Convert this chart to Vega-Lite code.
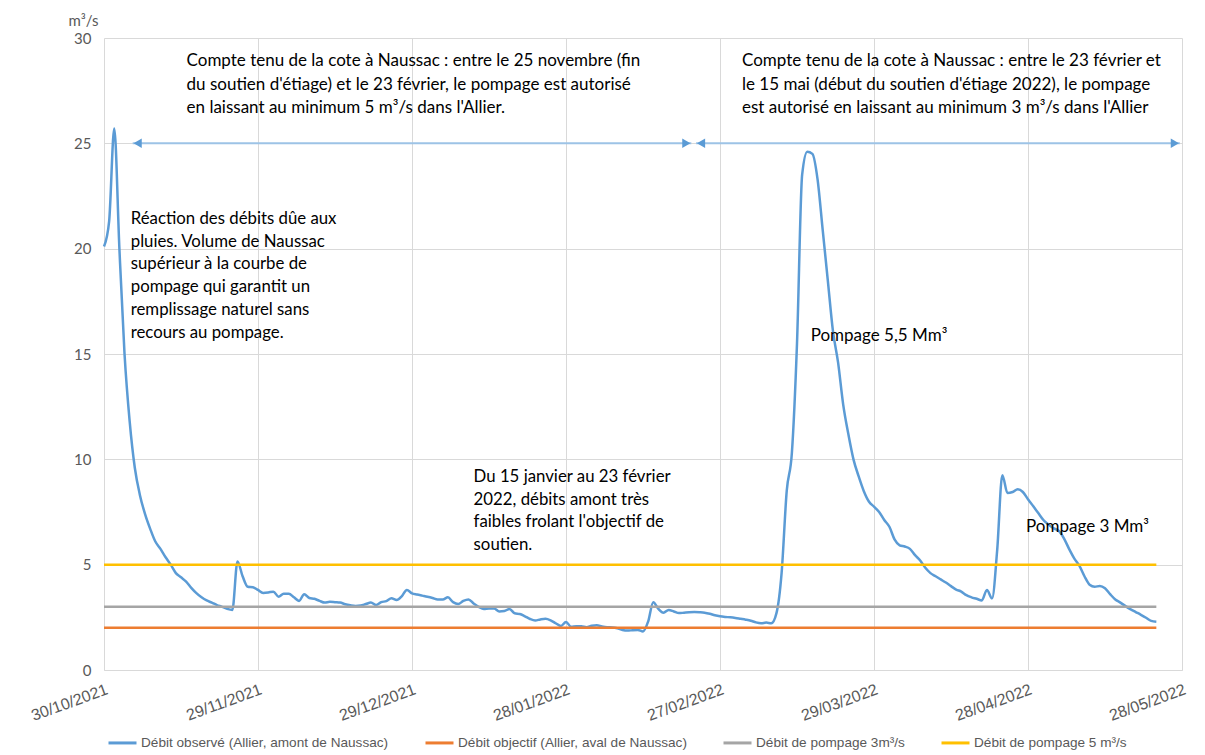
{
  "$schema": "https://vega.github.io/schema/vega-lite/v6.json",
  "width": 1078,
  "height": 632,
  "autosize": {"type": "none"},
  "padding": {"left": 104, "top": 38, "right": 23, "bottom": 85},
  "background": "white",
  "config": {"view": {"stroke": null}, "font": "Lato"},
  "datasets": {
    "obs": [
      {"d":"2021-10-30","v":20.1},{"d":"2021-10-31","v":21.3},{"d":"2021-11-01","v":25.7},{"d":"2021-11-02","v":20.0},{"d":"2021-11-03","v":15.0},{"d":"2021-11-04","v":11.8},{"d":"2021-11-05","v":9.6},{"d":"2021-11-06","v":8.3},{"d":"2021-11-07","v":7.4},{"d":"2021-11-08","v":6.7},{"d":"2021-11-09","v":6.1},{"d":"2021-11-10","v":5.75},{"d":"2021-11-11","v":5.35},{"d":"2021-11-12","v":5.0},{"d":"2021-11-13","v":4.6},{"d":"2021-11-14","v":4.4},{"d":"2021-11-15","v":4.2},{"d":"2021-11-16","v":3.9},{"d":"2021-11-17","v":3.65},{"d":"2021-11-18","v":3.45},{"d":"2021-11-19","v":3.3},{"d":"2021-11-20","v":3.2},{"d":"2021-11-21","v":3.08},{"d":"2021-11-22","v":3.0},{"d":"2021-11-23","v":2.9},{"d":"2021-11-24","v":2.85},{"d":"2021-11-25","v":5.15},{"d":"2021-11-26","v":4.45},{"d":"2021-11-27","v":3.95},{"d":"2021-11-28","v":3.93},{"d":"2021-11-29","v":3.8},{"d":"2021-11-30","v":3.66},
      {"d":"2021-12-01","v":3.68},{"d":"2021-12-02","v":3.72},{"d":"2021-12-03","v":3.48},{"d":"2021-12-04","v":3.62},{"d":"2021-12-05","v":3.62},{"d":"2021-12-06","v":3.45},{"d":"2021-12-07","v":3.28},{"d":"2021-12-08","v":3.6},{"d":"2021-12-09","v":3.42},{"d":"2021-12-10","v":3.38},{"d":"2021-12-11","v":3.28},{"d":"2021-12-12","v":3.2},{"d":"2021-12-13","v":3.24},{"d":"2021-12-14","v":3.22},{"d":"2021-12-15","v":3.2},{"d":"2021-12-16","v":3.12},{"d":"2021-12-17","v":3.07},{"d":"2021-12-18","v":3.04},{"d":"2021-12-19","v":3.06},{"d":"2021-12-20","v":3.13},{"d":"2021-12-21","v":3.2},{"d":"2021-12-22","v":3.08},{"d":"2021-12-23","v":3.22},{"d":"2021-12-24","v":3.27},{"d":"2021-12-25","v":3.4},{"d":"2021-12-26","v":3.32},{"d":"2021-12-27","v":3.5},{"d":"2021-12-28","v":3.8},{"d":"2021-12-29","v":3.64},{"d":"2021-12-30","v":3.58},{"d":"2021-12-31","v":3.53},
      {"d":"2022-01-01","v":3.48},{"d":"2022-01-02","v":3.42},{"d":"2022-01-03","v":3.35},{"d":"2022-01-04","v":3.35},{"d":"2022-01-05","v":3.45},{"d":"2022-01-06","v":3.22},{"d":"2022-01-07","v":3.13},{"d":"2022-01-08","v":3.28},{"d":"2022-01-09","v":3.35},{"d":"2022-01-10","v":3.16},{"d":"2022-01-11","v":3.0},{"d":"2022-01-12","v":2.9},{"d":"2022-01-13","v":2.92},{"d":"2022-01-14","v":2.92},{"d":"2022-01-15","v":2.78},{"d":"2022-01-16","v":2.8},{"d":"2022-01-17","v":2.9},{"d":"2022-01-18","v":2.69},{"d":"2022-01-19","v":2.66},{"d":"2022-01-20","v":2.55},{"d":"2022-01-21","v":2.42},{"d":"2022-01-22","v":2.35},{"d":"2022-01-23","v":2.4},{"d":"2022-01-24","v":2.43},{"d":"2022-01-25","v":2.36},{"d":"2022-01-26","v":2.22},{"d":"2022-01-27","v":2.09},{"d":"2022-01-28","v":2.28},{"d":"2022-01-29","v":2.05},{"d":"2022-01-30","v":2.08},{"d":"2022-01-31","v":2.08},
      {"d":"2022-02-01","v":2.03},{"d":"2022-02-02","v":2.1},{"d":"2022-02-03","v":2.13},{"d":"2022-02-04","v":2.07},{"d":"2022-02-05","v":2.03},{"d":"2022-02-06","v":2.02},{"d":"2022-02-07","v":1.98},{"d":"2022-02-08","v":1.9},{"d":"2022-02-09","v":1.87},{"d":"2022-02-10","v":1.89},{"d":"2022-02-11","v":1.9},{"d":"2022-02-12","v":1.83},{"d":"2022-02-13","v":2.3},{"d":"2022-02-14","v":3.22},{"d":"2022-02-15","v":2.9},{"d":"2022-02-16","v":2.72},{"d":"2022-02-17","v":2.85},{"d":"2022-02-18","v":2.78},{"d":"2022-02-19","v":2.7},{"d":"2022-02-20","v":2.72},{"d":"2022-02-21","v":2.74},{"d":"2022-02-22","v":2.75},{"d":"2022-02-23","v":2.74},{"d":"2022-02-24","v":2.72},{"d":"2022-02-25","v":2.67},{"d":"2022-02-26","v":2.6},{"d":"2022-02-27","v":2.55},{"d":"2022-02-28","v":2.52},
      {"d":"2022-03-01","v":2.5},{"d":"2022-03-02","v":2.47},{"d":"2022-03-03","v":2.43},{"d":"2022-03-04","v":2.39},{"d":"2022-03-05","v":2.34},{"d":"2022-03-06","v":2.26},{"d":"2022-03-07","v":2.22},{"d":"2022-03-08","v":2.25},{"d":"2022-03-09","v":2.22},{"d":"2022-03-10","v":2.7},{"d":"2022-03-11","v":4.6},{"d":"2022-03-12","v":8.5},{"d":"2022-03-13","v":10.3},{"d":"2022-03-14","v":15.5},{"d":"2022-03-15","v":23.5},{"d":"2022-03-16","v":24.6},{"d":"2022-03-17","v":24.5},{"d":"2022-03-18","v":23.3},{"d":"2022-03-19","v":20.9},{"d":"2022-03-20","v":18.5},{"d":"2022-03-21","v":16.1},{"d":"2022-03-22","v":14.6},{"d":"2022-03-23","v":12.6},{"d":"2022-03-24","v":11.2},{"d":"2022-03-25","v":10.0},{"d":"2022-03-26","v":9.2},{"d":"2022-03-27","v":8.5},{"d":"2022-03-28","v":8.0},{"d":"2022-03-29","v":7.75},{"d":"2022-03-30","v":7.5},{"d":"2022-03-31","v":7.12},
      {"d":"2022-04-01","v":6.8},{"d":"2022-04-02","v":6.2},{"d":"2022-04-03","v":5.92},{"d":"2022-04-04","v":5.86},{"d":"2022-04-05","v":5.75},{"d":"2022-04-06","v":5.45},{"d":"2022-04-07","v":5.2},{"d":"2022-04-08","v":4.85},{"d":"2022-04-09","v":4.6},{"d":"2022-04-10","v":4.45},{"d":"2022-04-11","v":4.3},{"d":"2022-04-12","v":4.15},{"d":"2022-04-13","v":3.98},{"d":"2022-04-14","v":3.82},{"d":"2022-04-15","v":3.72},{"d":"2022-04-16","v":3.55},{"d":"2022-04-17","v":3.45},{"d":"2022-04-18","v":3.38},{"d":"2022-04-19","v":3.3},{"d":"2022-04-20","v":3.8},{"d":"2022-04-21","v":3.4},{"d":"2022-04-22","v":5.7},{"d":"2022-04-23","v":9.25},{"d":"2022-04-24","v":8.4},{"d":"2022-04-25","v":8.45},{"d":"2022-04-26","v":8.58},{"d":"2022-04-27","v":8.45},{"d":"2022-04-28","v":8.1},{"d":"2022-04-29","v":7.78},{"d":"2022-04-30","v":7.45},
      {"d":"2022-05-01","v":7.12},{"d":"2022-05-02","v":6.9},{"d":"2022-05-03","v":6.72},{"d":"2022-05-04","v":6.6},{"d":"2022-05-05","v":6.25},{"d":"2022-05-06","v":5.75},{"d":"2022-05-07","v":5.3},{"d":"2022-05-08","v":4.95},{"d":"2022-05-09","v":4.45},{"d":"2022-05-10","v":4.05},{"d":"2022-05-11","v":3.95},{"d":"2022-05-12","v":3.99},{"d":"2022-05-13","v":3.88},{"d":"2022-05-14","v":3.6},{"d":"2022-05-15","v":3.35},{"d":"2022-05-16","v":3.2},{"d":"2022-05-17","v":3.03},{"d":"2022-05-18","v":2.88},{"d":"2022-05-19","v":2.75},{"d":"2022-05-20","v":2.62},{"d":"2022-05-21","v":2.48},{"d":"2022-05-22","v":2.33},{"d":"2022-05-23","v":2.29}
    ],
    "refs": [
      {"s":"Débit objectif (Allier, aval de Naussac)","v":2,"start":"2021-10-30","end":"2022-05-23"},
      {"s":"Débit de pompage 3m³/s","v":3,"start":"2021-10-30","end":"2022-05-23"},
      {"s":"Débit de pompage 5 m³/s","v":5,"start":"2021-10-30","end":"2022-05-23"}
    ],
    "periods": [
      {"start":"2021-11-04T14:00","end":"2022-02-21T10:00","v":25},
      {"start":"2022-02-22T08:00","end":"2022-05-27T14:00","v":25}
    ],
    "notesTop": [
      {"d":"2021-11-15T02:00","v":29.27,"t":"Compte tenu de la cote à Naussac : entre le 25 novembre (fin\ndu soutien d'étiage) et le 23 février, le pompage est  autorisé\nen laissant au minimum 5 m³/s dans l'Allier."},
      {"d":"2022-03-03T07:00","v":29.27,"t":"Compte tenu de la cote à Naussac : entre le 23 février et\nle 15 mai (début du soutien d'étiage 2022), le pompage\nest autorisé en laissant au minimum 3 m³/s dans l'Allier"},
      {"d":"2022-03-16T16:00","v":16.23,"t":"Pompage 5,5 Mm³"},
      {"d":"2022-04-27T15:00","v":7.18,"t":"Pompage 3 Mm³"}
    ],
    "notesBody": [
      {"d":"2021-11-04T05:00","v":21.8,"t":"Réaction des débits dûe aux\npluies. Volume de Naussac\nsupérieur à la courbe de\npompage qui garantit un\nremplissage naturel sans\nrecours au pompage."},
      {"d":"2022-01-10T00:00","v":9.55,"t":"Du 15 janvier au 23 février\n2022, débits amont très\nfaibles frolant l'objectif de\nsoutien."}
    ]
  },
  "layer": [
    {
      "data": {"name": "obs"},
      "mark": {"type": "line", "interpolate": "monotone", "strokeWidth": 2.5},
      "encoding": {
        "x": {
          "field": "d", "type": "temporal",
          "scale": {"domain": [{"year":2021,"month":10,"date":30},{"year":2022,"month":5,"date":28}]},
          "axis": {
            "title": null,
            "values": [{"year":2021,"month":10,"date":30},{"year":2021,"month":11,"date":29},{"year":2021,"month":12,"date":29},{"year":2022,"month":1,"date":28},{"year":2022,"month":2,"date":27},{"year":2022,"month":3,"date":29},{"year":2022,"month":4,"date":28},{"year":2022,"month":5,"date":28}],
            "format": "%d/%m/%Y",
            "grid": true, "gridColor": "#d9d9d9", "gridWidth": 1,
            "domain": true, "domainColor": "#d9d9d9", "domainWidth": 1,
            "ticks": false,
            "labelAngle": -20, "labelAlign": "right", "labelBaseline": "top",
            "labelPadding": 11, "labelFontSize": 16, "labelColor": "#595959",
            "labelFont": "Liberation Sans Narrow, Liberation Sans, sans-serif",
            "labelOverlap": false, "labelFlush": false
          }
        },
        "y": {
          "field": "v", "type": "quantitative",
          "scale": {"domain": [0, 30], "nice": false},
          "axis": {
            "values": [0,5,10,15,20,25,30],
            "grid": true, "gridColor": "#d9d9d9", "gridWidth": 1,
            "domain": false, "ticks": false,
            "labelPadding": 13, "labelFontSize": 15, "labelColor": "#595959", "labelFont": "Lato",
            "title": "m³/s", "titleAngle": 0, "titleFontWeight": "normal", "titleFontSize": 15,
            "titleColor": "#595959", "titleFont": "Lato",
            "titleAlign": "right", "titleBaseline": "bottom", "titleX": -6, "titleY": -10
          }
        },
        "color": {
          "datum": "Débit observé (Allier, amont de Naussac)",
          "scale": {
            "domain": ["Débit observé (Allier, amont de Naussac)","Débit objectif (Allier, aval de Naussac)","Débit de pompage 3m³/s","Débit de pompage 5 m³/s"],
            "range": ["#5b9bd5","#ed7d31","#a5a5a5","#ffc000"]
          },
          "legend": {
            "title": null, "orient": "none", "direction": "horizontal",
            "legendX": 3, "legendY": 689, "offset": 0, "padding": 0,
            "symbolType": "stroke", "symbolSize": 784, "symbolStrokeWidth": 3,
            "labelFont": "Liberation Sans Narrow, Liberation Sans, sans-serif",
            "labelFontSize": 13.6, "labelColor": "#595959", "labelLimit": 500,
            "labelOffset": 3, "columnPadding": 30
          }
        }
      }
    },
    {
      "data": {"name": "refs"},
      "mark": {"type": "rule", "strokeWidth": 2.5},
      "encoding": {
        "x": {"field": "start", "type": "temporal"},
        "x2": {"field": "end"},
        "y": {"field": "v", "type": "quantitative"},
        "color": {"field": "s", "type": "nominal", "title": null}
      }
    },
    {
      "data": {"name": "periods"},
      "mark": {"type": "rule", "strokeWidth": 2, "color": "#9dc3e6"},
      "encoding": {
        "x": {"field": "start", "type": "temporal"},
        "x2": {"field": "end"},
        "y": {"field": "v", "type": "quantitative"}
      }
    },
    {
      "data": {"name": "periods"},
      "mark": {"type": "point", "shape": "triangle-left", "filled": true, "size": 90, "opacity": 1, "color": "#5b9bd5", "xOffset": 5},
      "encoding": {
        "x": {"field": "start", "type": "temporal"},
        "y": {"field": "v", "type": "quantitative"}
      }
    },
    {
      "data": {"name": "periods"},
      "mark": {"type": "point", "shape": "triangle-right", "filled": true, "size": 90, "opacity": 1, "color": "#5b9bd5", "xOffset": -5},
      "encoding": {
        "x": {"field": "end", "type": "temporal"},
        "y": {"field": "v", "type": "quantitative"}
      }
    },
    {
      "data": {"name": "notesTop"},
      "mark": {"type": "text", "align": "left", "baseline": "top", "lineBreak": "\n", "lineHeight": 23.5, "font": "Lato", "fontSize": 17, "color": "#000000"},
      "encoding": {
        "x": {"field": "d", "type": "temporal"},
        "y": {"field": "v", "type": "quantitative"},
        "text": {"field": "t"}
      }
    },
    {
      "data": {"name": "notesBody"},
      "mark": {"type": "text", "align": "left", "baseline": "top", "lineBreak": "\n", "lineHeight": 22.8, "font": "Lato", "fontSize": 16.8, "color": "#000000"},
      "encoding": {
        "x": {"field": "d", "type": "temporal"},
        "y": {"field": "v", "type": "quantitative"},
        "text": {"field": "t"}
      }
    }
  ]
}
